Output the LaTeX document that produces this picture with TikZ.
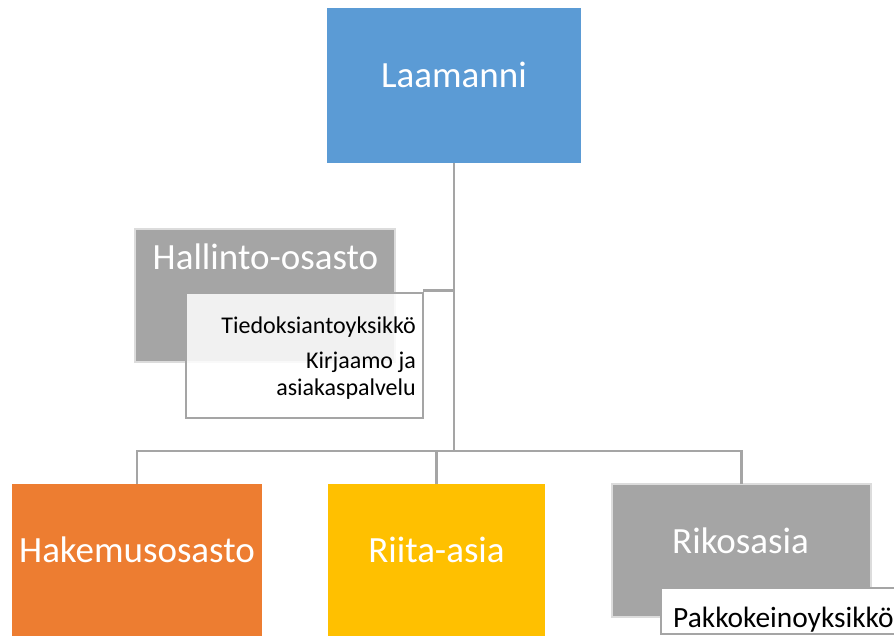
\documentclass[tikz,border=0pt]{standalone}
\usepackage{fontspec}
\setmainfont{Carlito}
\definecolor{cblue}{HTML}{5B9BD5}
\definecolor{corange}{HTML}{ED7D31}
\definecolor{cyellow}{HTML}{FFC000}
\definecolor{cgray}{HTML}{A5A5A5}
\definecolor{chalo}{HTML}{DCDCDC}
\definecolor{cline}{HTML}{A5A5A5}
\begin{document}
\begin{tikzpicture}[x=1pt,y=-1pt,
  box/.style={rectangle,inner sep=0pt,outer sep=0pt},
  bigtxt/.style={text=white,font=\fontsize{37}{44}\selectfont,anchor=base,inner sep=0pt},
  smalltxt/.style={text=black,font=\fontsize{24}{29}\selectfont,anchor=base east,inner sep=0pt},
  conn/.style={draw=cline,line width=2.7pt}]
\useasboundingbox (0,0) rectangle (894,636);
% boxes
\node[box,fill=cblue,minimum width=254pt,minimum height=155pt] (laa) at (454,85.5) {};
\node[box,fill=cgray,draw=chalo,line width=2.5pt,minimum width=260pt,minimum height=133pt] (hal) at (265,295.5) {};
\node[box,fill=white,fill opacity=0.85,draw=cline,line width=2pt,minimum width=237pt,minimum height=125pt] (sub) at (304.5,355.5) {};
\node[box,fill=corange,minimum width=250pt,minimum height=156pt] (hak) at (137,562) {};
\node[box,fill=cyellow,minimum width=217pt,minimum height=156pt] (rii) at (436.5,562) {};
\node[box,fill=cgray,draw=chalo,line width=2pt,minimum width=259pt,minimum height=133pt] (rik) at (741.5,550.5) {};
\node[box,fill=white,draw=cline,line width=2pt,minimum width=236pt,minimum height=46pt] (pak) at (779,611) {};
% texts
\node[bigtxt] (tlaa) at (454,88) {Laamanni};
\node[bigtxt] (thal) at (265.5,270) {Hallinto-osasto};
\node[smalltxt] (t1) at (416,333) {Tiedoksiantoyksikkö};
\node[smalltxt] (t2) at (416,368) {Kirjaamo ja};
\node[smalltxt] (t3) at (416,395) {asiakaspalvelu};
\node[bigtxt] (thak) at (137,562) {Hakemusosasto};
\node[bigtxt] (trii) at (436.5,562) {Riita-asia};
\node[bigtxt] (trik) at (740.5,553) {Rikosasia};
\node[text=black,font=\fontsize{29.4}{35}\selectfont,anchor=base west,inner sep=0pt] (tpak) at (673,627) {Pakkokeinoyksikkö};
% connectors
\coordinate (bar) at (454,451);
\draw[conn] (laa.south) -- (bar);
\draw[conn] ([yshift=2.5pt]sub.north east) -- ([yshift=2.5pt]sub.north east -| laa.south);
\draw[conn] (hak.north) |- (bar);
\draw[conn] (rik.north) |- (bar);
\draw[conn] (rii.north) -- (rii.north |- bar);
\end{tikzpicture}
\end{document}
